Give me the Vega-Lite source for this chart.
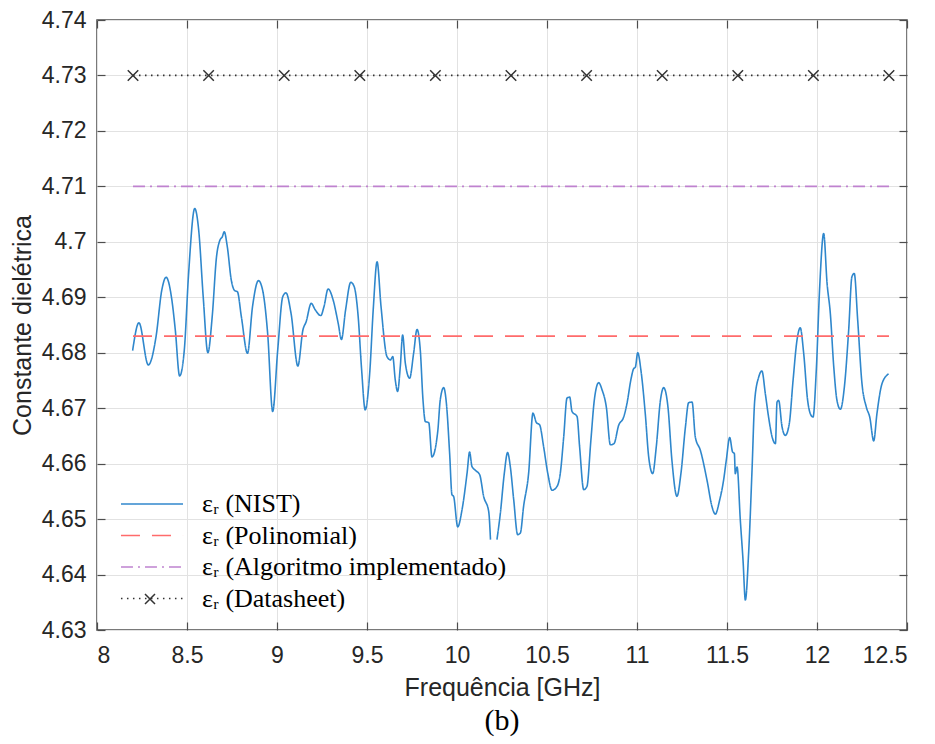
{
  "$schema": "https://vega.github.io/schema/vega-lite/v6.json",
  "width": 810,
  "height": 610,
  "autosize": {"type": "none"},
  "padding": {"left": 97, "top": 20, "right": 28, "bottom": 114},
  "background": "white",
  "title": {"text": "(b)", "orient": "bottom", "anchor": "middle", "font": "Liberation Serif", "fontSize": 30, "fontWeight": "normal", "color": "#000000", "offset": 6},
  "config": {
    "font": "Liberation Sans",
    "view": {"stroke": "#4d4d4d", "strokeWidth": 1.5},
    "axis": {"labelFont": "Liberation Sans", "labelColor": "#262626", "titleFont": "Liberation Sans", "titleColor": "#262626", "titleFontWeight": "normal", "tickColor": "#4d4d4d", "tickWidth": 1.2, "gridColor": "#e2e2e2", "gridWidth": 1, "gridOpacity": 1, "domain": false}
  },
  "datasets": {
    "nist": [
      {"f": 8.198, "v": 4.6804, "seg": 1}, {"f": 8.233, "v": 4.6854, "seg": 1}, {"f": 8.285, "v": 4.6778, "seg": 1}, {"f": 8.328, "v": 4.6829, "seg": 1},
      {"f": 8.36, "v": 4.6913, "seg": 1}, {"f": 8.384, "v": 4.6936, "seg": 1}, {"f": 8.416, "v": 4.6895, "seg": 1}, {"f": 8.435, "v": 4.6841, "seg": 1},
      {"f": 8.459, "v": 4.6758, "seg": 1}, {"f": 8.485, "v": 4.6805, "seg": 1}, {"f": 8.509, "v": 4.6943, "seg": 1}, {"f": 8.543, "v": 4.706, "seg": 1},
      {"f": 8.565, "v": 4.7021, "seg": 1}, {"f": 8.59, "v": 4.6901, "seg": 1}, {"f": 8.616, "v": 4.68, "seg": 1}, {"f": 8.64, "v": 4.6865, "seg": 1},
      {"f": 8.664, "v": 4.6973, "seg": 1}, {"f": 8.683, "v": 4.7003, "seg": 1}, {"f": 8.696, "v": 4.7009, "seg": 1}, {"f": 8.707, "v": 4.7018, "seg": 1},
      {"f": 8.724, "v": 4.6991, "seg": 1}, {"f": 8.746, "v": 4.6931, "seg": 1}, {"f": 8.765, "v": 4.6912, "seg": 1}, {"f": 8.78, "v": 4.691, "seg": 1},
      {"f": 8.802, "v": 4.6865, "seg": 1}, {"f": 8.836, "v": 4.6799, "seg": 1}, {"f": 8.864, "v": 4.6883, "seg": 1}, {"f": 8.897, "v": 4.693, "seg": 1},
      {"f": 8.92, "v": 4.6913, "seg": 1}, {"f": 8.948, "v": 4.6835, "seg": 1}, {"f": 8.976, "v": 4.6694, "seg": 1}, {"f": 9.004, "v": 4.6805, "seg": 1},
      {"f": 9.032, "v": 4.6901, "seg": 1}, {"f": 9.05, "v": 4.6908, "seg": 1}, {"f": 9.078, "v": 4.6871, "seg": 1}, {"f": 9.116, "v": 4.6776, "seg": 1},
      {"f": 9.144, "v": 4.6841, "seg": 1}, {"f": 9.162, "v": 4.6856, "seg": 1}, {"f": 9.19, "v": 4.6889, "seg": 1}, {"f": 9.213, "v": 4.6877, "seg": 1},
      {"f": 9.243, "v": 4.6867, "seg": 1}, {"f": 9.261, "v": 4.6883, "seg": 1}, {"f": 9.284, "v": 4.6915, "seg": 1}, {"f": 9.312, "v": 4.6895, "seg": 1},
      {"f": 9.34, "v": 4.6853, "seg": 1}, {"f": 9.358, "v": 4.6824, "seg": 1}, {"f": 9.381, "v": 4.6877, "seg": 1}, {"f": 9.41, "v": 4.6927, "seg": 1},
      {"f": 9.429, "v": 4.6919, "seg": 1}, {"f": 9.451, "v": 4.6865, "seg": 1}, {"f": 9.47, "v": 4.677, "seg": 1}, {"f": 9.49, "v": 4.6697, "seg": 1},
      {"f": 9.515, "v": 4.6763, "seg": 1}, {"f": 9.535, "v": 4.688, "seg": 1}, {"f": 9.556, "v": 4.6964, "seg": 1}, {"f": 9.578, "v": 4.6883, "seg": 1},
      {"f": 9.611, "v": 4.6793, "seg": 1}, {"f": 9.63, "v": 4.6787, "seg": 1}, {"f": 9.643, "v": 4.6793, "seg": 1}, {"f": 9.657, "v": 4.6751, "seg": 1},
      {"f": 9.67, "v": 4.673, "seg": 1}, {"f": 9.685, "v": 4.6775, "seg": 1}, {"f": 9.698, "v": 4.6832, "seg": 1}, {"f": 9.713, "v": 4.6781, "seg": 1},
      {"f": 9.737, "v": 4.6754, "seg": 1}, {"f": 9.759, "v": 4.6799, "seg": 1}, {"f": 9.778, "v": 4.6842, "seg": 1}, {"f": 9.796, "v": 4.6805, "seg": 1},
      {"f": 9.811, "v": 4.6715, "seg": 1}, {"f": 9.824, "v": 4.6676, "seg": 1}, {"f": 9.843, "v": 4.6674, "seg": 1}, {"f": 9.861, "v": 4.6612, "seg": 1},
      {"f": 9.893, "v": 4.6658, "seg": 1}, {"f": 9.907, "v": 4.6715, "seg": 1}, {"f": 9.926, "v": 4.6737, "seg": 1}, {"f": 9.941, "v": 4.6709, "seg": 1},
      {"f": 9.959, "v": 4.6619, "seg": 1}, {"f": 9.972, "v": 4.6544, "seg": 1}, {"f": 9.981, "v": 4.6541, "seg": 1}, {"f": 10.004, "v": 4.6486, "seg": 1},
      {"f": 10.028, "v": 4.6517, "seg": 1}, {"f": 10.056, "v": 4.6583, "seg": 1}, {"f": 10.07, "v": 4.6621, "seg": 1}, {"f": 10.083, "v": 4.6595, "seg": 1},
      {"f": 10.102, "v": 4.6588, "seg": 1}, {"f": 10.126, "v": 4.658, "seg": 1}, {"f": 10.148, "v": 4.6541, "seg": 1}, {"f": 10.176, "v": 4.6514, "seg": 1},
      {"f": 10.186, "v": 4.6463, "seg": 1},
      {"f": 10.222, "v": 4.6463, "seg": 2}, {"f": 10.241, "v": 4.6511, "seg": 2}, {"f": 10.263, "v": 4.6583, "seg": 2}, {"f": 10.281, "v": 4.662, "seg": 2},
      {"f": 10.296, "v": 4.6595, "seg": 2}, {"f": 10.315, "v": 4.6535, "seg": 2}, {"f": 10.337, "v": 4.6472, "seg": 2}, {"f": 10.352, "v": 4.6475, "seg": 2},
      {"f": 10.37, "v": 4.6523, "seg": 2}, {"f": 10.398, "v": 4.6583, "seg": 2}, {"f": 10.422, "v": 4.6691, "seg": 2}, {"f": 10.441, "v": 4.6674, "seg": 2},
      {"f": 10.459, "v": 4.667, "seg": 2}, {"f": 10.481, "v": 4.6631, "seg": 2}, {"f": 10.504, "v": 4.6583, "seg": 2}, {"f": 10.528, "v": 4.6552, "seg": 2},
      {"f": 10.556, "v": 4.6559, "seg": 2}, {"f": 10.574, "v": 4.6583, "seg": 2}, {"f": 10.593, "v": 4.6649, "seg": 2}, {"f": 10.611, "v": 4.6718, "seg": 2},
      {"f": 10.626, "v": 4.672, "seg": 2}, {"f": 10.639, "v": 4.6694, "seg": 2}, {"f": 10.667, "v": 4.6685, "seg": 2}, {"f": 10.681, "v": 4.6631, "seg": 2},
      {"f": 10.704, "v": 4.6553, "seg": 2}, {"f": 10.722, "v": 4.6559, "seg": 2}, {"f": 10.744, "v": 4.6643, "seg": 2}, {"f": 10.763, "v": 4.6715, "seg": 2},
      {"f": 10.787, "v": 4.6746, "seg": 2}, {"f": 10.806, "v": 4.6733, "seg": 2}, {"f": 10.83, "v": 4.6701, "seg": 2}, {"f": 10.852, "v": 4.6634, "seg": 2},
      {"f": 10.872, "v": 4.6636, "seg": 2}, {"f": 10.898, "v": 4.6669, "seg": 2}, {"f": 10.926, "v": 4.6684, "seg": 2}, {"f": 10.944, "v": 4.6708, "seg": 2},
      {"f": 10.967, "v": 4.6753, "seg": 2}, {"f": 10.981, "v": 4.6771, "seg": 2}, {"f": 10.991, "v": 4.6774, "seg": 2}, {"f": 11.004, "v": 4.68, "seg": 2},
      {"f": 11.022, "v": 4.6768, "seg": 2}, {"f": 11.046, "v": 4.669, "seg": 2}, {"f": 11.065, "v": 4.6612, "seg": 2}, {"f": 11.087, "v": 4.6582, "seg": 2},
      {"f": 11.107, "v": 4.663, "seg": 2}, {"f": 11.13, "v": 4.6714, "seg": 2}, {"f": 11.148, "v": 4.6737, "seg": 2}, {"f": 11.172, "v": 4.6702, "seg": 2},
      {"f": 11.194, "v": 4.6606, "seg": 2}, {"f": 11.222, "v": 4.6541, "seg": 2}, {"f": 11.244, "v": 4.6582, "seg": 2}, {"f": 11.269, "v": 4.6666, "seg": 2},
      {"f": 11.287, "v": 4.671, "seg": 2}, {"f": 11.306, "v": 4.6711, "seg": 2}, {"f": 11.324, "v": 4.6648, "seg": 2}, {"f": 11.352, "v": 4.6624, "seg": 2},
      {"f": 11.389, "v": 4.657, "seg": 2}, {"f": 11.417, "v": 4.6522, "seg": 2}, {"f": 11.435, "v": 4.6509, "seg": 2}, {"f": 11.459, "v": 4.6534, "seg": 2},
      {"f": 11.481, "v": 4.657, "seg": 2}, {"f": 11.496, "v": 4.6606, "seg": 2}, {"f": 11.515, "v": 4.6647, "seg": 2}, {"f": 11.531, "v": 4.6621, "seg": 2},
      {"f": 11.541, "v": 4.6618, "seg": 2}, {"f": 11.546, "v": 4.6582, "seg": 2}, {"f": 11.556, "v": 4.6594, "seg": 2}, {"f": 11.574, "v": 4.6498, "seg": 2},
      {"f": 11.589, "v": 4.6426, "seg": 2}, {"f": 11.602, "v": 4.6354, "seg": 2}, {"f": 11.62, "v": 4.6438, "seg": 2}, {"f": 11.639, "v": 4.6588, "seg": 2},
      {"f": 11.654, "v": 4.6714, "seg": 2}, {"f": 11.676, "v": 4.6756, "seg": 2}, {"f": 11.694, "v": 4.6767, "seg": 2}, {"f": 11.713, "v": 4.6726, "seg": 2},
      {"f": 11.731, "v": 4.6684, "seg": 2}, {"f": 11.75, "v": 4.6649, "seg": 2}, {"f": 11.769, "v": 4.6636, "seg": 2}, {"f": 11.778, "v": 4.6711, "seg": 2},
      {"f": 11.787, "v": 4.6714, "seg": 2}, {"f": 11.806, "v": 4.6666, "seg": 2}, {"f": 11.824, "v": 4.6651, "seg": 2}, {"f": 11.846, "v": 4.6672, "seg": 2},
      {"f": 11.867, "v": 4.675, "seg": 2}, {"f": 11.889, "v": 4.6823, "seg": 2}, {"f": 11.907, "v": 4.6845, "seg": 2}, {"f": 11.926, "v": 4.6799, "seg": 2},
      {"f": 11.948, "v": 4.6714, "seg": 2}, {"f": 11.963, "v": 4.669, "seg": 2}, {"f": 11.978, "v": 4.6684, "seg": 2}, {"f": 11.996, "v": 4.6768, "seg": 2},
      {"f": 12.015, "v": 4.6919, "seg": 2}, {"f": 12.037, "v": 4.7015, "seg": 2}, {"f": 12.056, "v": 4.6925, "seg": 2}, {"f": 12.074, "v": 4.6871, "seg": 2},
      {"f": 12.093, "v": 4.6775, "seg": 2}, {"f": 12.111, "v": 4.6714, "seg": 2}, {"f": 12.13, "v": 4.6698, "seg": 2}, {"f": 12.152, "v": 4.6738, "seg": 2},
      {"f": 12.176, "v": 4.6841, "seg": 2}, {"f": 12.194, "v": 4.6937, "seg": 2}, {"f": 12.207, "v": 4.6943, "seg": 2}, {"f": 12.226, "v": 4.6859, "seg": 2},
      {"f": 12.25, "v": 4.6744, "seg": 2}, {"f": 12.274, "v": 4.6702, "seg": 2}, {"f": 12.293, "v": 4.6684, "seg": 2}, {"f": 12.315, "v": 4.6641, "seg": 2},
      {"f": 12.333, "v": 4.669, "seg": 2}, {"f": 12.361, "v": 4.6744, "seg": 2}, {"f": 12.398, "v": 4.6762, "seg": 2}
    ],
    "refs": [
      {"f": 8.2, "v": 4.683, "s": "εᵣ (Polinomial)"}, {"f": 12.4, "v": 4.683, "s": "εᵣ (Polinomial)"},
      {"f": 8.2, "v": 4.71, "s": "εᵣ (Algoritmo  implementado)"}, {"f": 12.4, "v": 4.71, "s": "εᵣ (Algoritmo  implementado)"},
      {"f": 8.2, "v": 4.73, "s": "εᵣ (Datasheet)"}, {"f": 12.4, "v": 4.73, "s": "εᵣ (Datasheet)"}
    ],
    "marks": [
      {"f": 8.2, "v": 4.73, "s": "εᵣ (Datasheet)"}, {"f": 8.62, "v": 4.73, "s": "εᵣ (Datasheet)"}, {"f": 9.04, "v": 4.73, "s": "εᵣ (Datasheet)"},
      {"f": 9.46, "v": 4.73, "s": "εᵣ (Datasheet)"}, {"f": 9.88, "v": 4.73, "s": "εᵣ (Datasheet)"}, {"f": 10.3, "v": 4.73, "s": "εᵣ (Datasheet)"},
      {"f": 10.72, "v": 4.73, "s": "εᵣ (Datasheet)"}, {"f": 11.14, "v": 4.73, "s": "εᵣ (Datasheet)"}, {"f": 11.56, "v": 4.73, "s": "εᵣ (Datasheet)"},
      {"f": 11.98, "v": 4.73, "s": "εᵣ (Datasheet)"}, {"f": 12.4, "v": 4.73, "s": "εᵣ (Datasheet)"}
    ]
  },
  "layer": [
    {
      "data": {"name": "nist"},
      "transform": [{"calculate": "'εᵣ (NIST)'", "as": "s"}],
      "mark": {"type": "line", "strokeWidth": 1.6, "interpolate": "monotone"},
      "encoding": {
        "x": {"field": "f", "type": "quantitative", "scale": {"domain": [8, 12.5], "nice": false, "zero": false},
              "axis": {"orient": "bottom", "values": [8, 8.5, 9, 9.5, 10, 10.5, 11, 11.5, 12, 12.5], "format": "~g", "labelFontSize": 23, "labelPadding": 22, "tickSize": -8, "grid": true, "title": "Frequência [GHz]", "titleFontSize": 25, "titlePadding": 8}},
        "y": {"field": "v", "type": "quantitative", "scale": {"domain": [4.63, 4.74], "nice": false, "zero": false},
              "axis": {"orient": "left", "values": [4.63, 4.64, 4.65, 4.66, 4.67, 4.68, 4.69, 4.7, 4.71, 4.72, 4.73, 4.74], "format": "~g", "labelFontSize": 23, "labelPadding": 19, "tickSize": -8, "grid": true, "title": "Constante dielétrica", "titleFontSize": 25, "titlePadding": 6}},
        "color": {"field": "s", "type": "nominal",
                  "scale": {"domain": ["εᵣ (NIST)", "εᵣ (Polinomial)", "εᵣ (Algoritmo  implementado)", "εᵣ (Datasheet)"], "range": ["#2f87cc", "#ff6b6b", "#bf82cf", "#333333"]},
                  "legend": {"title": null, "orient": "none", "legendX": 42, "legendY": 471, "padding": 0, "symbolType": "M-6,0L6,0", "symbolSize": 107, "symbolStrokeWidth": 1.6, "labelFont": "Liberation Serif", "labelFontSize": 26, "labelColor": "#000000", "labelOffset": 37, "rowPadding": 5.5, "labelLimit": 0}},
        "strokeDash": {"field": "s", "type": "nominal",
                  "scale": {"domain": ["εᵣ (NIST)", "εᵣ (Polinomial)", "εᵣ (Algoritmo  implementado)", "εᵣ (Datasheet)"], "range": [[1, 0], [19, 12], [12, 5, 2, 5], [1.5, 4.5]]},
                  "legend": {"title": null, "orient": "none", "legendX": 42, "legendY": 471, "padding": 0, "symbolType": "M-6,0L6,0", "symbolSize": 107, "symbolStrokeWidth": 1.6, "labelFont": "Liberation Serif", "labelFontSize": 26, "labelColor": "#000000", "labelOffset": 37, "rowPadding": 5.5, "labelLimit": 0}},
        "detail": {"field": "seg", "type": "nominal"}
      }
    },
    {
      "data": {"name": "refs"},
      "mark": {"type": "line", "strokeWidth": 1.8},
      "encoding": {
        "x": {"field": "f", "type": "quantitative", "axis": {"orient": "top", "values": [8, 8.5, 9, 9.5, 10, 10.5, 11, 11.5, 12, 12.5], "labels": false, "grid": false, "tickSize": -8, "title": null}},
        "y": {"field": "v", "type": "quantitative", "axis": {"orient": "right", "values": [4.63, 4.64, 4.65, 4.66, 4.67, 4.68, 4.69, 4.7, 4.71, 4.72, 4.73, 4.74], "labels": false, "grid": false, "tickSize": -8, "title": null}},
        "color": {"field": "s", "type": "nominal"},
        "strokeDash": {"field": "s", "type": "nominal"}
      }
    },
    {
      "data": {"name": "marks"},
      "mark": {"type": "point", "filled": false, "size": 110, "strokeWidth": 1.5, "color": "#333333", "opacity": 1},
      "encoding": {
        "x": {"field": "f", "type": "quantitative", "axis": null},
        "y": {"field": "v", "type": "quantitative", "axis": null},
        "shape": {"field": "s", "type": "nominal", "scale": {"domain": ["εᵣ (Datasheet)"], "range": ["M-1,-1L1,1M1,-1L-1,1"]},
                  "legend": {"title": null, "orient": "none", "legendX": 47, "legendY": 573, "padding": 0, "symbolSize": 100, "symbolStrokeColor": "#333333", "symbolFillColor": "transparent", "symbolStrokeWidth": 1.5, "labelExpr": "''", "labelFontSize": 1}}
      }
    }
  ]
}
